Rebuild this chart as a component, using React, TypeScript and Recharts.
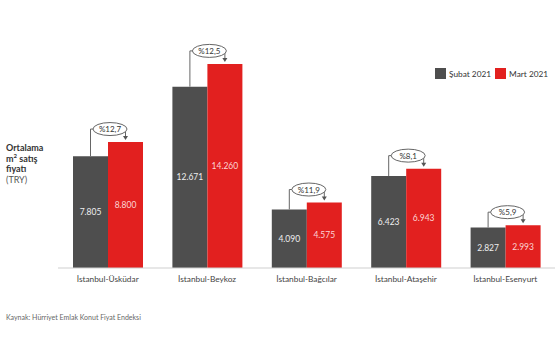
import React from "react";
import { BarChart, Bar, XAxis, YAxis, LabelList } from "recharts";

const districts = [
  "İstanbul-Üsküdar",
  "İstanbul-Beykoz",
  "İstanbul-Bağcılar",
  "İstanbul-Ataşehir",
  "İstanbul-Esenyurt",
];
const subat2021 = [7805, 12671, 4090, 6423, 2827];
const mart2021 = [8800, 14260, 4575, 6943, 2993];
const changes = ["%12,7", "%12,5", "%11,9", "%8,1", "%5,9"];

const GRAY = "#4e4e4e";
const RED = "#e2201f";
const FONT = "Lato, 'Open Sans', sans-serif";

const data = districts.map((name, i) => ({
  name,
  subat: subat2021[i],
  mart: mart2021[i],
}));

const fmt = (v: number) => v.toLocaleString("de-DE");

function ChangeBracket(props: any) {
  const { x, y, width, height, index } = props;
  const base = y + height;
  const grayTop = base - height * (subat2021[index] / mart2021[index]);
  const grayCx = x - width / 2;
  const redCx = x + width / 2;
  const top = y - 13;
  const mid = (grayCx + redCx) / 2 + 2;
  return (
    <g>
      <path
        d={`M${grayCx},${grayTop} V${top} H${redCx} V${y - 4}`}
        stroke="#666"
        strokeWidth={1}
        fill="none"
      />
      <polygon
        points={`${redCx - 2.5},${y - 6} ${redCx + 2.5},${y - 6} ${redCx},${y - 2}`}
        fill="#555"
      />
      <ellipse cx={mid} cy={top} rx={17} ry={6.5} fill="#fff" stroke="#666" strokeWidth={1} />
      <text x={mid} y={top + 3} textAnchor="middle" fontSize={8} fill="#333" fontFamily={FONT}>
        {changes[index]}
      </text>
    </g>
  );
}

export default function App() {
  return (
    <div style={{ position: "absolute", left: 0, top: 0, width: 555, height: 355, background: "#fff" }}>
      <BarChart
        width={555}
        height={355}
        data={data}
        margin={{ top: 39, right: 0, left: 58, bottom: 57 }}
        barGap={0}
      >
        <XAxis
          dataKey="name"
          axisLine={{ stroke: "#cfcfcf" }}
          tickLine={false}
          height={30}
          tick={{ fontSize: 8.3, fill: "#444", fontFamily: FONT }}
          interval={0}
        />
        <YAxis hide domain={[0, 16000]} />
        <Bar dataKey="subat" name="Şubat 2021" fill={GRAY} barSize={35} isAnimationActive={false}>
          <LabelList
            dataKey="subat"
            position="center"
            formatter={(v: any) => fmt(v)}
            style={{ fontSize: 8.5, fill: "#eee", fontFamily: FONT }}
          />
        </Bar>
        <Bar dataKey="mart" name="Mart 2021" fill={RED} barSize={35} isAnimationActive={false}>
          <LabelList
            dataKey="mart"
            position="center"
            formatter={(v: any) => fmt(v)}
            style={{ fontSize: 8.5, fill: "#fcd4d4", fontFamily: FONT }}
          />
          <LabelList dataKey="mart" content={ChangeBracket} />
        </Bar>
      </BarChart>
      <div
        style={{
          position: "absolute",
          left: 435,
          top: 68,
          display: "flex",
          alignItems: "center",
          fontFamily: FONT,
          fontSize: 8.3,
          color: "#333",
          whiteSpace: "nowrap",
        }}
      >
        <span style={{ width: 11, height: 11, background: GRAY, display: "inline-block", marginRight: 3 }} />
        <span style={{ marginRight: 4 }}>Şubat 2021</span>
        <span style={{ width: 11, height: 11, background: RED, display: "inline-block", marginRight: 3 }} />
        <span>Mart 2021</span>
      </div>
      <div
        style={{
          position: "absolute",
          left: 6,
          top: 143,
          fontFamily: FONT,
          fontSize: 9,
          lineHeight: "10.5px",
          color: "#333",
        }}
      >
        <div style={{ fontWeight: 700 }}>Ortalama</div>
        <div style={{ fontWeight: 700 }}>
          m<sup style={{ fontSize: 6, lineHeight: 0 }}>2</sup> satış
        </div>
        <div style={{ fontWeight: 700 }}>fiyatı</div>
        <div style={{ color: "#555" }}>(TRY)</div>
      </div>
      <div
        style={{
          position: "absolute",
          left: 6,
          top: 313,
          fontFamily: FONT,
          fontSize: 7,
          color: "#666",
        }}
      >
        Kaynak: Hürriyet Emlak Konut Fiyat Endeksi
      </div>
    </div>
  );
}
